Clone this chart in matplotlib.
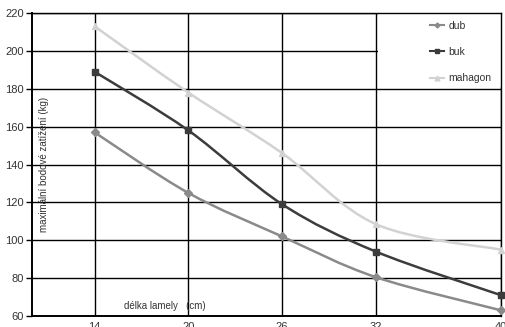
import numpy as np
import matplotlib
matplotlib.use('Agg')
import matplotlib.pyplot as plt
from matplotlib.path import Path
from matplotlib.patches import PathPatch, Rectangle

plt.rcParams['font.family'] = ['Liberation Sans', 'DejaVu Sans']

# data
lengths = [14, 20, 26, 32, 40]
dub = [157, 125, 102, 80.5, 63]
buk = [189, 158, 119, 94, 71]
mahagon = [213, 178, 146, 108.5, 95]
yticks = [60, 80, 100, 120, 140, 160, 180, 200, 220]


def smooth_path(x, y):
    # bezier path like excel "smoothed line"
    pts = np.column_stack([x, y]).astype(float)
    n = len(pts)
    verts = [pts[0]]
    codes = [Path.MOVETO]
    for i in range(n - 1):
        p0 = pts[i - 1] if i > 0 else pts[i]
        p1 = pts[i]
        p2 = pts[i + 1]
        p3 = pts[i + 2] if i + 2 < n else pts[i + 1]
        verts += [p1 + (p2 - p0) / 6.0, p2 - (p3 - p1) / 6.0, p2]
        codes += [Path.CURVE4] * 3
    return Path(verts, codes)


fig = plt.figure(figsize=(5.05, 3.27), dpi=100)
ax = fig.add_axes([0.0634, 0.0336, 0.9287, 0.9266])
ax.set_axisbelow(True)

series = [('dub', dub, '#8a8a8a', 'D', 4),
          ('buk', buk, '#3c3c3c', 's', 5),
          ('mahagon', mahagon, '#d2d2d2', '^', 5)]

for name, vals, col, mk, ms in series:
    ax.add_patch(PathPatch(smooth_path(lengths, vals), fill=False,
                           edgecolor=col, lw=1.8, zorder=3))
    ax.plot(lengths, vals, linestyle='none', marker=mk, ms=ms, color=col,
            zorder=4, clip_on=False)
    ax.plot([], [], color=col, marker=mk, ms=ms - 1.5, lw=1.5, label=name)

ax.set_xlim(10, 40)
ax.set_ylim(60, 220)
ax.set_xticks(lengths)
ax.set_yticks(yticks)
ax.grid(True, color='black', lw=1.0)

# white area behind the legend hides the grid there
ax.add_patch(Rectangle((0.738, 0.757), 0.262, 0.24, transform=ax.transAxes,
                       facecolor='white', edgecolor='none', zorder=1))

for s in ['top', 'right', 'bottom']:
    ax.spines[s].set_linewidth(1.0)
ax.spines['left'].set_linewidth(1.4)
ax.spines['bottom'].set_linewidth(1.4)
ax.tick_params(axis='y', length=4, width=1, direction='out', labelsize=8,
               labelcolor='#333333', pad=2)
ax.tick_params(axis='x', length=0, labelsize=8, labelcolor='#333333', pad=4)

ax.text(124, 18, 'délka lamely   (cm)', transform=None, fontsize=7,
        color='#333333')
ax.text(0.014, 0.5, 'maximální bodové zatížení (kg)', transform=ax.transAxes,
        rotation=90, fontsize=7, color='#333333', ha='left', va='center')

leg = ax.legend(loc='upper right', bbox_to_anchor=(1.0, 1.005), frameon=False,
                fontsize=7.5, labelspacing=1.55, handlelength=1.4,
                handletextpad=0.4, labelcolor='#333333')

plt.savefig('out.png', dpi=100)
